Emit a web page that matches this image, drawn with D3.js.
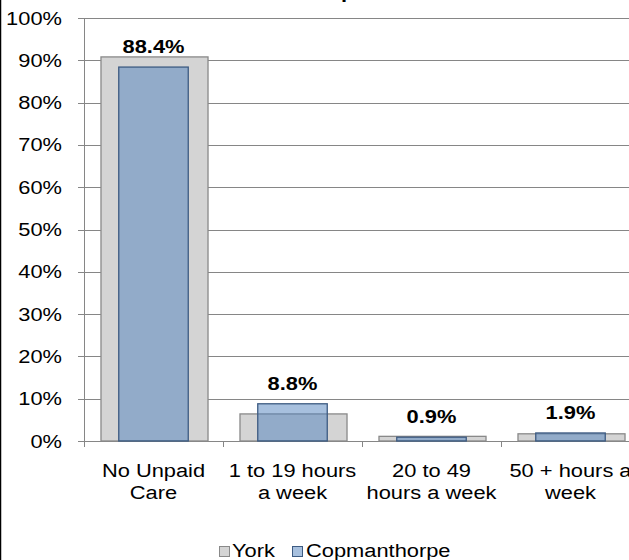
<!DOCTYPE html>
<html>
<head>
<meta charset="utf-8">
<style>
    body { margin: 0; background: #fff; }
    svg { display: block; }
    text { font-family: "Liberation Sans", Arial, sans-serif; fill: #000; }
    .grid line { stroke: #868686; stroke-width: 1; }
    .label { font-weight: bold; }
</style>
</head>
<body>
<div id="chart"></div>
<script src="https://cdn.jsdelivr.net/npm/d3@7"></script>
<script>
    var categories = ["No Unpaid Care", "1 to 19 hours a week", "20 to 49 hours a week", "50 + hours a week"];
    var categoryLines = [["No Unpaid", "Care"], ["1 to 19 hours", "a week"], ["20 to 49", "hours a week"], ["50 + hours a", "week"]];
    var york = [90.8, 6.4, 1.1, 1.7];
    var copmanthorpe = [88.4, 8.8, 0.9, 1.9];
    var yTicks = [0, 10, 20, 30, 40, 50, 60, 70, 80, 90, 100];

    var width = 629, height = 560;
    var stretch = 1.15;

    var svg = d3.select("#chart").append("svg")
        .attr("width", width)
        .attr("height", height);

    var x = d3.scaleBand()
        .domain(categories)
        .range([84, 640])
        .padding(0);

    var y = d3.scaleLinear()
        .domain([0, 100])
        .range([441, 18]);

    var step = x.step();

    // text stretched sideways like the original picture
    function stretchedText(g, tx, ty, str, anchor) {
        return g.append("text")
            .attr("transform", "translate(" + tx + "," + ty + ") scale(" + stretch + ",1)")
            .attr("text-anchor", anchor || "middle")
            .style("font-size", "19px")
            .text(str);
    }

    // left border
    svg.append("line")
        .attr("x1", 0.5).attr("x2", 0.5)
        .attr("y1", 0).attr("y2", height)
        .attr("stroke", "#000")
        .attr("stroke-width", 1.5);

    // title, almost entirely above the picture
    svg.append("text")
        .attr("transform", "translate(312,-2) scale(" + stretch + ",1)")
        .style("font-size", "19px")
        .style("font-weight", "bold")
        .text("Unpaid Care");

    // gridlines
    var grid = svg.append("g").attr("class", "grid");
    grid.selectAll("line")
        .data(yTicks)
        .enter().append("line")
        .attr("x1", 78)
        .attr("x2", width)
        .attr("y1", function (d) { return Math.round(y(d)) + 0.5; })
        .attr("y2", function (d) { return Math.round(y(d)) + 0.5; });

    // y axis line
    grid.append("line")
        .attr("x1", 84.5).attr("x2", 84.5)
        .attr("y1", y(100)).attr("y2", y(0) + 6);

    // x ticks at band edges
    var edges = categories.map(function (c) { return x(c); }).concat([x.range()[1]]);
    grid.selectAll("line.xt")
        .data(edges)
        .enter().append("line")
        .attr("class", "xt")
        .attr("x1", function (d) { return Math.round(d) + 0.5; })
        .attr("x2", function (d) { return Math.round(d) + 0.5; })
        .attr("y1", Math.round(y(0)))
        .attr("y2", Math.round(y(0)) + 6);

    // y tick labels
    var yl = svg.append("g");
    yTicks.forEach(function (t) {
        stretchedText(yl, 62, y(t) + 6.5, t + "%", "end");
    });

    // York bars
    var yorkW = step * 0.77;
    svg.append("g").selectAll("rect")
        .data(york)
        .enter().append("rect")
        .attr("x", function (d, i) { return x(categories[i]) + (step - yorkW) / 2 + 1; })
        .attr("width", yorkW)
        .attr("y", function (d) { return y(d); })
        .attr("height", function (d) { return y(0) - y(d); })
        .attr("fill", "#d4d4d4")
        .attr("stroke", "#898989")
        .attr("stroke-width", 1.3);

    // Copmanthorpe bars, see-through over York
    var copW = step * 0.5;
    svg.append("g").selectAll("rect")
        .data(copmanthorpe)
        .enter().append("rect")
        .attr("x", function (d, i) { return x(categories[i]) + (step - copW) / 2; })
        .attr("width", copW)
        .attr("y", function (d) { return y(d); })
        .attr("height", function (d) { return y(0) - y(d); })
        .attr("fill", "#4f81bd")
        .attr("fill-opacity", 0.5)
        .attr("stroke", "#3d5b82")
        .attr("stroke-width", 1.3);

    // data labels
    var lab = svg.append("g").attr("class", "label");
    copmanthorpe.forEach(function (d, i) {
        stretchedText(lab, x(categories[i]) + step / 2, y(d) - 14, d.toFixed(1) + "%");
    });

    // category labels
    var cl = svg.append("g");
    categoryLines.forEach(function (lines, i) {
        lines.forEach(function (s, j) {
            stretchedText(cl, x(categories[i]) + step / 2, 477 + j * 22, s);
        });
    });

    // legend
    var leg = svg.append("g");
    leg.append("rect")
        .attr("x", 219.5).attr("y", 546.5).attr("width", 10).attr("height", 10)
        .attr("fill", "#d4d4d4").attr("stroke", "#898989");
    stretchedText(leg, 232, 557, "York", "start");
    leg.append("rect")
        .attr("x", 292.5).attr("y", 546.5).attr("width", 10).attr("height", 10)
        .attr("fill", "#a7c0de").attr("stroke", "#3d5b82");
    stretchedText(leg, 306, 557, "Copmanthorpe", "start");
</script>
</body>
</html>
